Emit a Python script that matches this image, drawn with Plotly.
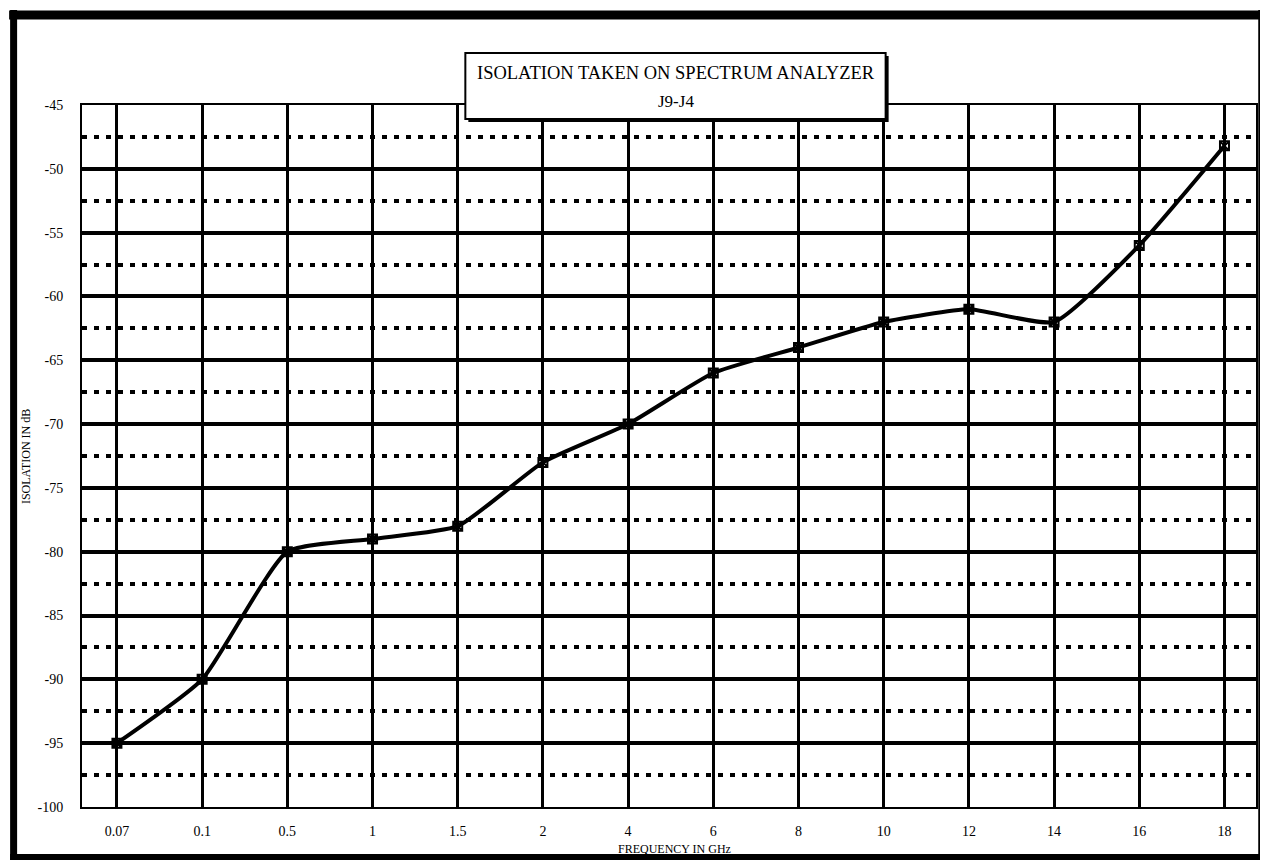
import plotly.graph_objects as go

frequencies = ["0.07", "0.1", "0.5", "1", "1.5", "2", "4", "6", "8", "10", "12", "14", "16", "18"]
isolation_db = [-95, -90, -80, -79, -78, -73, -70, -66, -64, -62, -61, -62, -56, -48.2]

y_tick_values = [-100, -95, -90, -85, -80, -75, -70, -65, -60, -55, -50, -45]
y_tick_labels = ["-100", "-95", "-90", "-85", "-80", "-75", "-70", "-65", "-60", "-55", "-50", "-45"]

title_line1 = "ISOLATION TAKEN ON SPECTRUM ANALYZER"
title_line2 = "J9-J4"
x_title = "FREQUENCY IN GHz"
y_title = "ISOLATION IN dB"

PAGE_OFF = 8            # browser default body margin
FW, FH = 1252, 852      # figure size (fits the window without scrollbars)
L, R, T, B = 82, 1258, 105, 807  # plot area in page pixels


def xp(px):
    return (px - L) / (R - L)


def yp(py):
    return (B - py) / (B - T)


FONT = "Liberation Serif"

fig = go.Figure()
fig.add_trace(go.Scatter(
    x=frequencies, y=isolation_db, mode="lines+markers",
    line=dict(color="black", width=4, shape="spline", smoothing=0.5),
    marker=dict(symbol="square-x-open", size=9, color="black",
                line=dict(color="black", width=2)),
    showlegend=False, cliponaxis=False,
))

shapes = []


def pline(x0, y0, x1, y1, w):
    shapes.append(dict(type="line", xref="paper", yref="paper",
                       x0=xp(x0), y0=yp(y0), x1=xp(x1), y1=yp(y1),
                       line=dict(color="black", width=w), layer="above"))


# outer frame
pline(9, 15, 1262, 15, 9)
pline(13.5, 10, 13.5, 862, 7)
pline(10, 857, 1262, 857, 6)
pline(1261.5, 10, 1261.5, 860, 2.5)

# title box with shadow
shapes.append(dict(type="rect", xref="paper", yref="paper",
                   x0=xp(469), x1=xp(890), y0=yp(56), y1=yp(122),
                   fillcolor="black", line=dict(width=0), layer="above"))
shapes.append(dict(type="rect", xref="paper", yref="paper",
                   x0=xp(466), x1=xp(887), y0=yp(53), y1=yp(119),
                   fillcolor="white", line=dict(color="black", width=2), layer="above"))

annotations = [
    dict(xref="paper", yref="paper", x=xp(677), y=yp(73), text=title_line1,
         showarrow=False, font=dict(family=FONT, size=18.5, color="black"),
         xanchor="center", yanchor="middle"),
    dict(xref="paper", yref="paper", x=xp(677), y=yp(101), text=title_line2,
         showarrow=False, font=dict(family=FONT, size=17, color="black"),
         xanchor="center", yanchor="middle"),
    dict(xref="paper", yref="paper", x=xp(676), y=yp(849), text=x_title,
         showarrow=False, font=dict(family=FONT, size=12, color="black"),
         xanchor="center", yanchor="middle"),
    dict(xref="paper", yref="paper", x=xp(26), y=yp(457), text=y_title,
         showarrow=False, font=dict(family=FONT, size=12, color="black"),
         textangle=-90, xanchor="center", yanchor="middle"),
]

fig.update_layout(
    width=FW, height=FH,
    margin=dict(l=L - PAGE_OFF, r=PAGE_OFF + FW - R, t=T - PAGE_OFF, b=PAGE_OFF + FH - B),
    paper_bgcolor="white", plot_bgcolor="white",
    font=dict(family=FONT, size=13, color="black"),
    shapes=shapes, annotations=annotations,
    xaxis=dict(
        type="category", range=[-0.41, 13.37],
        showgrid=True, gridcolor="black", gridwidth=3,
        showline=True, linecolor="black", linewidth=2, mirror=True,
        ticks="", ticklabelstandoff=10,
        tickfont=dict(family=FONT, size=14),
        zeroline=False,
    ),
    yaxis=dict(
        range=[-100, -45], tickmode="array",
        tickvals=y_tick_values, ticktext=y_tick_labels,
        showgrid=True, gridcolor="black", gridwidth=3.5,
        minor=dict(tick0=-97.5, dtick=5, showgrid=True, gridcolor="black",
                   gridwidth=4, griddash="5px,7px", ticks=""),
        showline=True, linecolor="black", linewidth=2, mirror=True,
        ticks="", ticklabelstandoff=14,
        tickfont=dict(family=FONT, size=14),
        zeroline=False,
    ),
)

fig.write_html("out.html")
